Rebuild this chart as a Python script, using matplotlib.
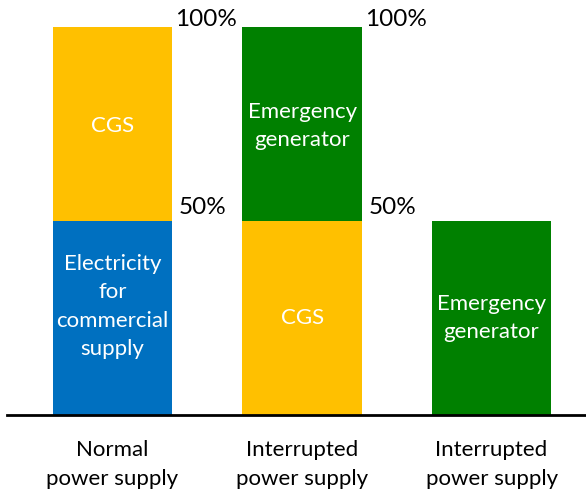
import matplotlib.pyplot as plt

plt.rcParams['font.family'] = ['Lato', 'DejaVu Sans']

categories = ["Normal\npower supply", "Interrupted\npower supply", "Interrupted\npower supply"]
lower = [50, 50, 50]
upper = [50, 50, 0]
lower_labels = ["Electricity\nfor\ncommercial\nsupply", "CGS", "Emergency\ngenerator"]
upper_labels = ["CGS", "Emergency\ngenerator", ""]
lower_colors = ["#0070C0", "#FFC000", "#008000"]
upper_colors = ["#FFC000", "#008000", "#008000"]

fig = plt.figure(figsize=(5.86, 4.90), dpi=100)
# axes: x from 7px to 585px, y from 415px (0%) to 27px (100%)
ax = fig.add_axes([7 / 586, (490 - 415) / 490, 578 / 586, 388 / 490])

x = [0, 1, 2]
w = 0.63
ax.bar(x, lower, width=w, color=lower_colors)
ax.bar(x, upper, width=w, bottom=lower, color=upper_colors)

for i in x:
    ly = lower[i] / 2 + (3 if i == 0 else 0)
    ax.text(i, ly, lower_labels[i], ha="center", va="center",
            color="white", fontsize=16, linespacing=1.52)
    if upper[i] > 0:
        ax.text(i, lower[i] + upper[i] / 2 - 0.5, upper_labels[i], ha="center", va="center",
                color="white", fontsize=16, linespacing=1.52)
        ax.text(i + w / 2 + 0.015, 102, "100%", ha="left", va="center",
                fontsize=17.5, clip_on=False)
        ax.text(i + w / 2 + 0.035, 53.5, "50%", ha="left", va="center",
                fontsize=17.5)
    ax.text(i, -12.8, categories[i], ha="center", va="center", fontsize=16,
            linespacing=1.55, clip_on=False)

ax.set_xlim(-0.557, 2.493)
ax.set_ylim(0, 100)
for s in ["top", "right", "left"]:
    ax.spines[s].set_visible(False)
ax.spines["bottom"].set_linewidth(2)
ax.set_xticks([])
ax.set_yticks([])

fig.savefig("out.png", dpi=100)
